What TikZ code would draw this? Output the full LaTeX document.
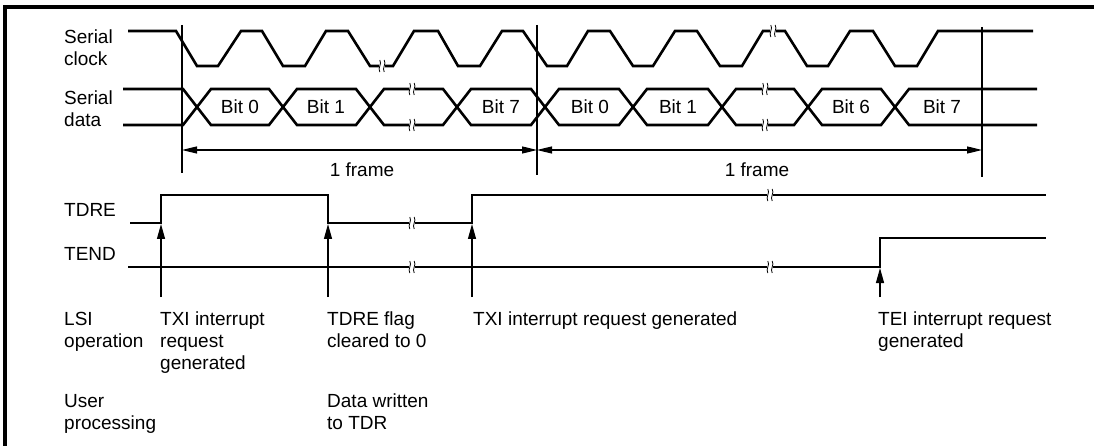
\documentclass[tikz,border=0pt]{standalone}
\usepackage{fontspec}
\setmainfont{Liberation Sans}
\usetikzlibrary{arrows.meta}
\newcommand\brkmark[2]{%
  \fill[white] ({#1-3},{#2-4.5}) rectangle ({#1+3},{#2+4.5});
  \draw[line width=0.8pt] ({#1-2.2},{#2-6}) .. controls ({#1+0.3},{#2-2}) and ({#1-4.7},{#2+2}) .. ({#1-2.2},{#2+6});
  \draw[line width=0.8pt] ({#1+2.2},{#2-6}) .. controls ({#1+4.7},{#2-2}) and ({#1-0.3},{#2+2}) .. ({#1+2.2},{#2+6});
}
\begin{document}
\begin{tikzpicture}[x=1pt,y=-1pt,
  sig/.style={line width=2.6pt, line join=miter},
  thinl/.style={line width=1.2pt},
  frm/.style={line width=3.5pt},
  lbl/.style={anchor=north west, inner sep=0pt, align=left, font=\fontsize{19}{22}\selectfont},
  clbl/.style={anchor=center, inner sep=0pt, font=\fontsize{19}{22}\selectfont},
  evarrow/.style={line width=1.2pt, -{Triangle[length=15pt,width=8pt]}},
  dimarrow/.style={line width=1.2pt, {Triangle[length=15pt,width=7pt]}-{Triangle[length=15pt,width=7pt]}}
]
\useasboundingbox (0,0) rectangle (1094,446);
% frame (top and left edges)
\draw[frm] (5,446) -- (5,7) -- (1094,7);

% labels (node y = first baseline - 15.4)
\node[lbl] (sclk) at (64,27.6) {\strut Serial\\\strut clock};
\node[lbl] (sdat) at (64,88.6) {\strut Serial\\\strut data};
\node[lbl] (tdre) at (64,200.6) {\strut TDRE};
\node[lbl] (tend) at (64,244.6) {\strut TEND};
\node[lbl] (lsi) at (64,309.6) {\strut LSI\\\strut operation};
\node[lbl] (txi1) at (160,309.6) {\strut TXI interrupt\\\strut request\\\strut generated};
\node[lbl] (tdrf) at (327,309.6) {\strut TDRE flag\\\strut cleared to 0};
\node[lbl] (txi2) at (473,309.6) {\strut TXI interrupt request generated};
\node[lbl] (tei) at (878,309.6) {\strut TEI interrupt request\\\strut generated};
\node[lbl] (user) at (64,391.6) {\strut User\\\strut processing};
\node[lbl] (dw) at (327,391.6) {\strut Data written\\\strut to TDR};

% vertical frame markers
\coordinate (v1t) at (182,25); \coordinate (v1b) at (182,173);
\coordinate (v2t) at (537,25); \coordinate (v2b) at (537,175);
\coordinate (v3t) at (982,27); \coordinate (v3b) at (982,177);
\draw[thinl] (v1t) -- (v1b);
\draw[thinl] (v2t) -- (v2b);
\draw[thinl] (v3t) -- (v3b);
\coordinate (d1) at (182,150); \coordinate (d2) at (537,150); \coordinate (d3) at (982,150);
\draw[dimarrow] (d1) -- (d2);
\draw[dimarrow] (d2) -- (d3);
\node[clbl, anchor=base] (fr1) at (362,177) {1 frame};
\node[clbl, anchor=base] (fr2) at (757,177) {1 frame};

% serial clock
\draw[sig] (128,31) -- (176,31) -- (197,66) -- (218,66) -- (241,31) -- (262,31) -- (283,66) -- (305,66) -- (326,31) -- (348,31) -- (370,66) -- (393,66) -- (414,31) -- (438,31) -- (458,66) -- (480,66) -- (502,31) -- (523,31) -- (547,66) -- (567,66) -- (588,31) -- (610,31) -- (633,66) -- (653,66) -- (675,31) -- (697,31) -- (720,66) -- (742,66) -- (763,31) -- (785,31) -- (807,66) -- (828,66) -- (850,31) -- (873,31) -- (895,66) -- (917,66) -- (938,31) -- (1033,31);
\brkmark{382}{66}
\brkmark{773}{31}

% serial data
\draw[sig] (123,89) -- (183,89) -- (211,125) -- (269,125) -- (297,89) -- (356,89) -- (384,125) -- (443,125) -- (471,89) -- (531,89) -- (559,125) -- (619,125) -- (647,89) -- (708,89) -- (736,125) -- (794,125) -- (822,89) -- (881,89) -- (909,125) -- (1037,125);
\draw[sig] (123,125) -- (183,125) -- (211,89) -- (269,89) -- (297,125) -- (356,125) -- (384,89) -- (443,89) -- (471,125) -- (531,125) -- (559,89) -- (619,89) -- (647,125) -- (708,125) -- (736,89) -- (794,89) -- (822,125) -- (881,125) -- (909,89) -- (1037,89);
\brkmark{412}{89}
\brkmark{412}{125}
\brkmark{765}{89}
\brkmark{765}{125}
\node[clbl] (b0a) at (240,107) {Bit 0};
\node[clbl] (b1a) at (326,107) {Bit 1};
\node[clbl] (b7a) at (501,107) {Bit 7};
\node[clbl] (b0b) at (590,107) {Bit 0};
\node[clbl] (b1b) at (678,107) {Bit 1};
\node[clbl] (b6b) at (851,107) {Bit 6};
\node[clbl] (b7b) at (942,107) {Bit 7};

% TDRE
\draw[sig] (130,223) -- (161,223) -- (161,195) -- (328,195) -- (328,223) -- (472,223) -- (472,195) -- (1046,195);
\brkmark{412}{223}
\brkmark{770}{195}
% TEND
\draw[sig] (128,267) -- (880,267) -- (880,238) -- (1046,238);
\brkmark{412}{267}
\brkmark{770}{267}

% event arrows
\coordinate (a1s) at (161,297); \coordinate (a1e) at (161,224);
\coordinate (a2s) at (328,297); \coordinate (a2e) at (328,224);
\coordinate (a3s) at (472,297); \coordinate (a3e) at (472,224);
\coordinate (a4s) at (880,297); \coordinate (a4e) at (880,268);
\draw[evarrow] (a1s) -- (a1e);
\draw[evarrow] (a2s) -- (a2e);
\draw[evarrow] (a3s) -- (a3e);
\draw[evarrow] (a4s) -- (a4e);
\end{tikzpicture}
\end{document}
